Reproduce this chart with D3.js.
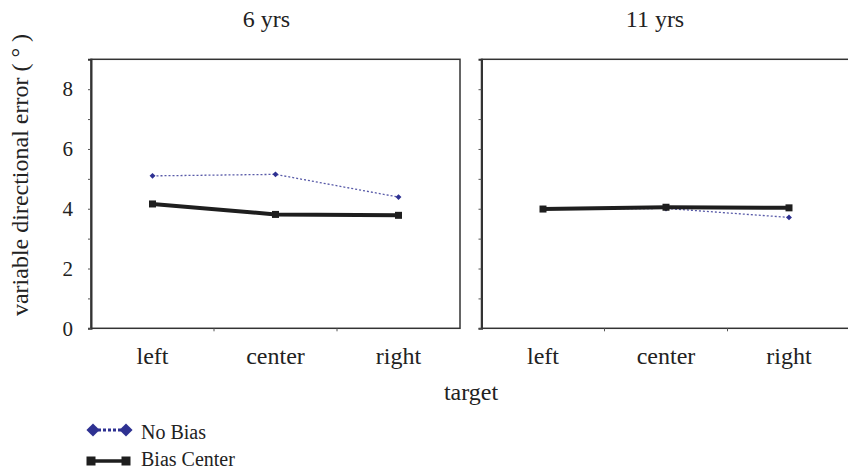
<!DOCTYPE html>
<html><head><meta charset="utf-8">
<script src="https://cdn.jsdelivr.net/npm/d3@7/dist/d3.min.js"></script>
<style>body{margin:0;background:#fff}svg{display:block}</style>
</head><body><svg id="c" width="848" height="471"></svg>
<script>
const panels = ["6 yrs", "11 yrs"];
const targets = ["left", "center", "right"];
const noBias = [[5.10, 5.15, 4.39], [4.00, 4.01, 3.71]];
const biasCenter = [[4.16, 3.81, 3.78], [3.99, 4.05, 4.03]];
const yTicks = [0, 2, 4, 6, 8];
const yMinor = [1, 3, 5, 7];
const seriesNames = ["No Bias", "Bias Center"];

const FONT = "'Liberation Serif'";
const svg = d3.select("#c");
const plotTop = 59.3, plotBottom = 328.3, pw = 369;
const lefts = [91, 481.5];
const y = d3.scaleLinear().domain([0, 9]).range([plotBottom, plotTop]);
const blue = "#2e3192", black = "#1e1e1e";
const txt = (sel, size) => sel.style("font-family", FONT).style("font-size", size + "px").attr("fill", "#222");

panels.forEach((title, p) => {
  const x = d3.scaleBand().domain(targets).range([lefts[p], lefts[p] + pw]);
  const g = svg.append("g");
  g.append("rect").attr("x", lefts[p]).attr("y", plotTop).attr("width", pw).attr("height", plotBottom - plotTop)
    .attr("fill", "none").attr("stroke", "#333").attr("stroke-width", 1.5);
  const ya = d3.axisLeft(y).tickValues(yTicks).tickSize(3).tickPadding(15)
    .tickFormat(p === 0 ? d3.format("d") : () => "");
  const yg = g.append("g").attr("transform", `translate(${lefts[p]},0)`).call(ya);
  yg.attr("font-family", null);
  yg.select(".domain").attr("stroke", "#333").attr("stroke-width", 2);
  yg.selectAll("line").attr("stroke", "#555");
  txt(yg.selectAll("text"), 21);
  g.append("g").attr("transform", `translate(${lefts[p]},0)`)
    .call(d3.axisLeft(y).tickValues(yMinor).tickSize(3).tickFormat(""))
    .call(s => { s.select(".domain").remove(); s.selectAll("line").attr("stroke", "#555"); });
  const xa = d3.axisBottom(x).tickSize(0).tickPadding(19);
  const xg = g.append("g").attr("transform", `translate(0,${plotBottom})`).call(xa);
  xg.attr("font-family", null);
  xg.select(".domain").remove();
  txt(xg.selectAll("text"), 24);
  const seps = targets.slice(1).map(t => x(t));
  g.selectAll(".sep").data(seps).enter().append("line")
    .attr("x1", d => d).attr("x2", d => d).attr("y1", plotBottom).attr("y2", plotBottom + 3)
    .attr("stroke", "#555");
  txt(g.append("text").attr("x", lefts[p] + pw / 2 - 9 + (p ? -2 : 0)).attr("y", 27).attr("text-anchor", "middle"), 24)
    .text(title);

  const cx = t => x(t) + x.bandwidth() / 2;
  const line = d3.line().x((d, i) => cx(targets[i])).y(d => y(d));
  g.append("path").datum(noBias[p]).attr("d", line).attr("fill", "none")
    .attr("stroke", blue).attr("stroke-opacity", 0.8).attr("stroke-width", 1.3).attr("stroke-dasharray", "2,2");
  g.selectAll(".nb").data(noBias[p]).enter().append("path")
    .attr("d", d3.symbol(d3.symbolDiamond2, 22))
    .attr("transform", (d, i) => `translate(${cx(targets[i])},${y(d)})`).attr("fill", blue);
  g.append("path").datum(biasCenter[p]).attr("d", line).attr("fill", "none")
    .attr("stroke", black).attr("stroke-width", 4);
  g.selectAll(".bc").data(biasCenter[p]).enter().append("rect")
    .attr("x", (d, i) => cx(targets[i]) - 3.5).attr("y", d => y(d) - 3.5)
    .attr("width", 7).attr("height", 7).attr("fill", black);
});

txt(svg.append("text").attr("transform", `translate(28,175) rotate(-90)`)
  .attr("text-anchor", "middle"), 24).text("variable directional error ( ° )");
txt(svg.append("text").attr("x", 471).attr("y", 400).attr("text-anchor", "middle"), 24).text("target");

const lg = svg.append("g");
const ly = [430, 461];
lg.append("line").attr("x1", 93).attr("x2", 126).attr("y1", ly[0]).attr("y2", ly[0])
  .attr("stroke", blue).attr("stroke-width", 3).attr("stroke-dasharray", "3,2");
[93, 126].forEach(xx => lg.append("path").attr("d", d3.symbol(d3.symbolDiamond2, 110))
  .attr("transform", `translate(${xx},${ly[0]})`).attr("fill", blue));
lg.append("line").attr("x1", 91).attr("x2", 126).attr("y1", ly[1]).attr("y2", ly[1])
  .attr("stroke", black).attr("stroke-width", 3.5);
[91, 126].forEach(xx => lg.append("rect").attr("x", xx - 4.5).attr("y", ly[1] - 4.5)
  .attr("width", 9).attr("height", 9).attr("fill", black));
seriesNames.forEach((n, i) => txt(lg.append("text").attr("x", 141).attr("y", [439, 466][i]), 20).text(n));
</script></body></html>
